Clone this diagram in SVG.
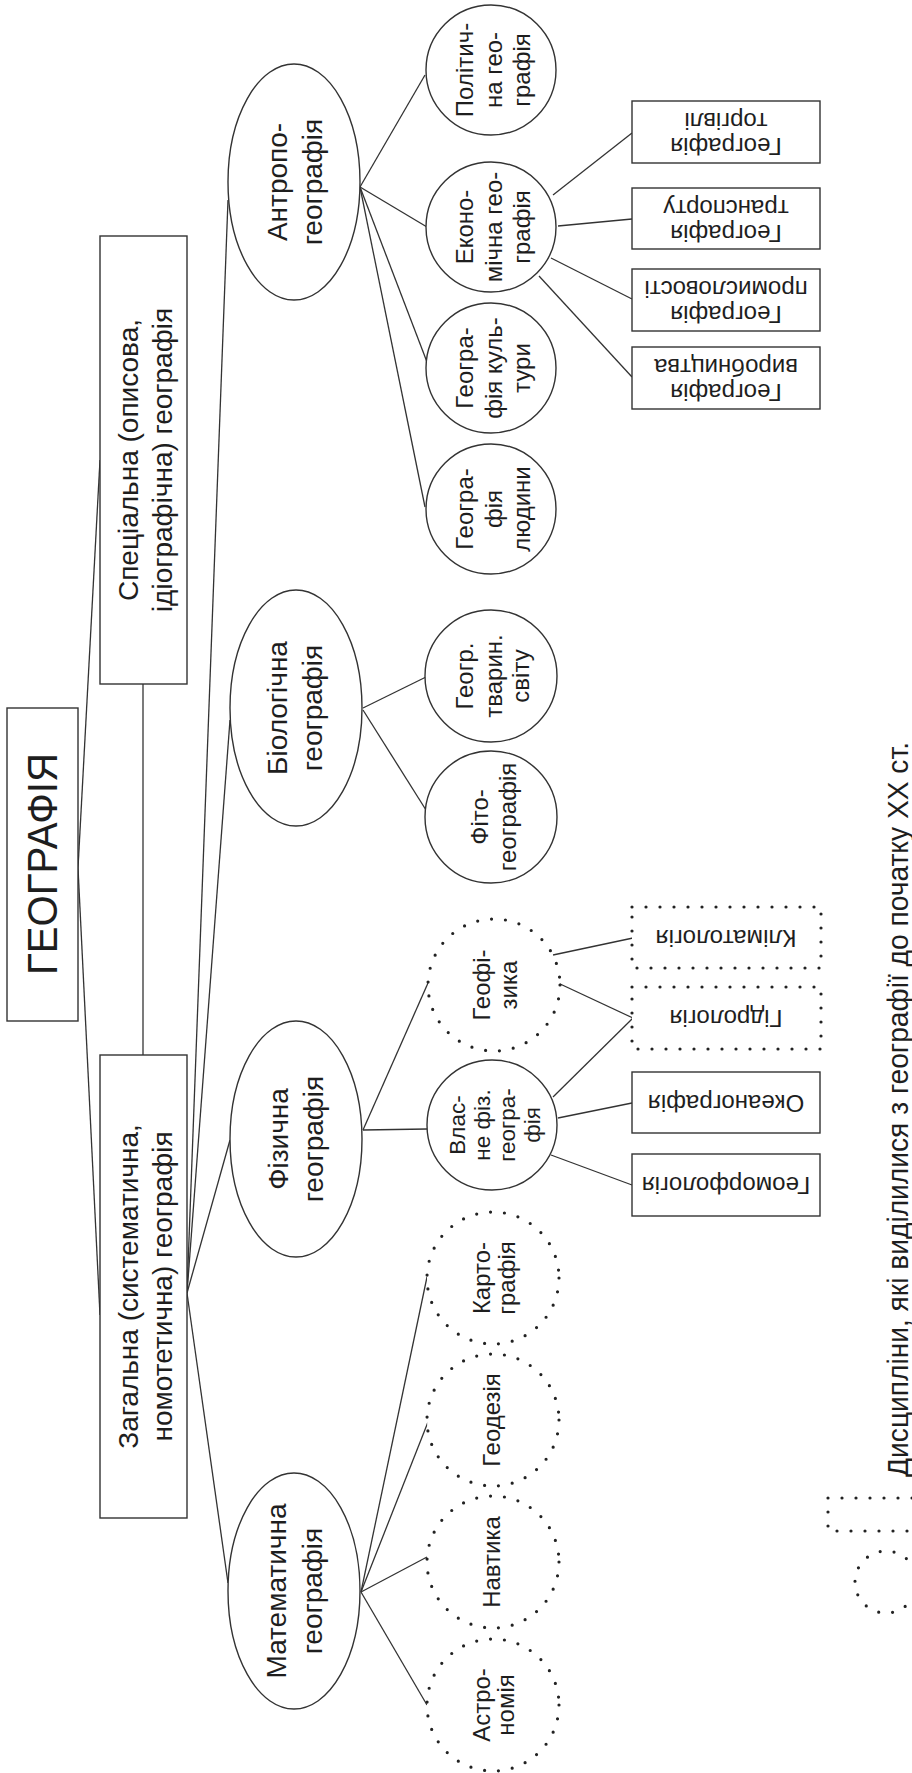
<svg xmlns="http://www.w3.org/2000/svg" width="912" height="1773" viewBox="0 0 912 1773">
<style>
.ln{stroke:#333;stroke-width:1.3;fill:none}
.sh{fill:#fff;stroke:#333;stroke-width:1.4}
.dot{fill:#fff;stroke:#222;stroke-width:3.2;stroke-dasharray:0 14;stroke-linecap:round}
.t{font-family:"Liberation Sans",Arial,sans-serif;fill:#1e1e1e;text-anchor:middle}
.b{font-size:28px}
.m{font-size:24px}
.s{font-size:24px}
.v{font-size:22.5px}
</style>
<rect width="912" height="1773" fill="#fff"/>
<g id="connectors">
<line class="ln" x1="78" y1="868" x2="100" y2="460"/>
<line class="ln" x1="78" y1="868" x2="100" y2="1315"/>
<line class="ln" x1="143" y1="684" x2="143" y2="1055"/>
<line class="ln" x1="187" y1="1293" x2="228" y2="200"/>
<line class="ln" x1="187" y1="1293" x2="230" y2="720"/>
<line class="ln" x1="187" y1="1293" x2="230" y2="1140"/>
<line class="ln" x1="187" y1="1293" x2="228" y2="1583"/>
<line class="ln" x1="360" y1="187" x2="425" y2="75"/>
<line class="ln" x1="360" y1="187" x2="427" y2="227"/>
<line class="ln" x1="360" y1="187" x2="427" y2="362"/>
<line class="ln" x1="360" y1="187" x2="425" y2="507"/>
<line class="ln" x1="553" y1="195" x2="632" y2="133"/>
<line class="ln" x1="558" y1="226" x2="632" y2="219"/>
<line class="ln" x1="551" y1="258" x2="632" y2="299"/>
<line class="ln" x1="539" y1="276" x2="632" y2="377"/>
<line class="ln" x1="363" y1="708" x2="426" y2="677"/>
<line class="ln" x1="363" y1="710" x2="426" y2="810"/>
<line class="ln" x1="363" y1="1130" x2="428" y2="983"/>
<line class="ln" x1="363" y1="1130" x2="427" y2="1129"/>
<line class="ln" x1="553" y1="955" x2="633" y2="938"/>
<line class="ln" x1="558" y1="983" x2="633" y2="1018"/>
<line class="ln" x1="553" y1="1097" x2="633" y2="1018"/>
<line class="ln" x1="558" y1="1118" x2="632" y2="1103"/>
<line class="ln" x1="551" y1="1155" x2="632" y2="1185"/>
<line class="ln" x1="361" y1="1592" x2="427" y2="1277"/>
<line class="ln" x1="361" y1="1592" x2="428" y2="1422"/>
<line class="ln" x1="361" y1="1592" x2="427" y2="1557"/>
<line class="ln" x1="361" y1="1592" x2="427" y2="1705"/>
</g>
<g id="root">
<rect class="sh" x="7" y="708" width="71" height="313"/>
<text class="t" font-size="42" transform="translate(42.5,864) rotate(-90)" y="14.5" textLength="222" lengthAdjust="spacingAndGlyphs">ГЕОГРАФІЯ</text>
</g>
<g id="special">
<rect class="sh" x="100" y="236" width="87" height="448"/>
<text class="t b" transform="translate(143.5,460) rotate(-90)"><tspan x="0" y="-5.5">Спеціальна (описова,</tspan><tspan x="0" y="28.5">ідіографічна) географія</tspan></text>
</g>
<g id="general">
<rect class="sh" x="100" y="1055" width="87" height="463"/>
<text class="t b" transform="translate(143.5,1286.5) rotate(-90)"><tspan x="0" y="-5.5">Загальна (систематична,</tspan><tspan x="0" y="28.5">номотетична) географія</tspan></text>
</g>
<g id="antropo">
<ellipse class="sh" cx="294" cy="182" rx="66" ry="118"/>
<text class="t b" transform="translate(295,182) rotate(-90)"><tspan x="0" y="-8">Антропо-</tspan><tspan x="0" y="27">географія</tspan></text>
</g>
<g id="bio">
<ellipse class="sh" cx="296" cy="708" rx="66" ry="118"/>
<text class="t b" transform="translate(295,708) rotate(-90)"><tspan x="0" y="-8">Біологічна</tspan><tspan x="0" y="27">географія</tspan></text>
</g>
<g id="phys">
<ellipse class="sh" cx="296" cy="1139" rx="66" ry="118"/>
<text class="t b" transform="translate(295,1139) rotate(-90)"><tspan x="0" y="-7">Фізична</tspan><tspan x="0" y="28">географія</tspan></text>
</g>
<g id="math">
<ellipse class="sh" cx="294" cy="1591" rx="66" ry="118"/>
<text class="t b" transform="translate(295,1591) rotate(-90)"><tspan x="0" y="-9">Математична</tspan><tspan x="0" y="27">географія</tspan></text>
</g>
<g id="polit">
<circle class="sh" cx="491" cy="70" r="65"/>
<text class="t m" transform="translate(491,70) rotate(-90)"><tspan x="0" y="-18">Політич-</tspan><tspan x="0" y="11">на гео-</tspan><tspan x="0" y="39">графія</tspan></text>
</g>
<g id="econ">
<circle class="sh" cx="491" cy="227" r="65"/>
<text class="t m" transform="translate(491,227) rotate(-90)"><tspan x="0" y="-18">Еконо-</tspan><tspan x="0" y="11">мічна гео-</tspan><tspan x="0" y="39">графія</tspan></text>
</g>
<g id="culture">
<circle class="sh" cx="491" cy="368" r="65"/>
<text class="t m" transform="translate(491,368) rotate(-90)"><tspan x="0" y="-18">Геогра-</tspan><tspan x="0" y="11">фія куль-</tspan><tspan x="0" y="39">тури</tspan></text>
</g>
<g id="human">
<circle class="sh" cx="491" cy="509" r="65"/>
<text class="t m" transform="translate(491,509) rotate(-90)"><tspan x="0" y="-18">Геогра-</tspan><tspan x="0" y="11">фія</tspan><tspan x="0" y="39">людини</tspan></text>
</g>
<g id="trade">
<rect class="sh" x="632" y="101" width="188" height="62"/>
<text class="t s" transform="translate(726,132) rotate(180)"><tspan x="0" y="-6">Географія</tspan><tspan x="0" y="19">торгівлі</tspan></text>
</g>
<g id="transport">
<rect class="sh" x="632" y="188" width="188" height="61"/>
<text class="t s" transform="translate(726,218.5) rotate(180)"><tspan x="0" y="-6">Географія</tspan><tspan x="0" y="19">транспорту</tspan></text>
</g>
<g id="industry">
<rect class="sh" x="632" y="269" width="188" height="62"/>
<text class="t s" transform="translate(726,300) rotate(180)"><tspan x="0" y="-6">Географія</tspan><tspan x="0" y="19">промисловості</tspan></text>
</g>
<g id="production">
<rect class="sh" x="632" y="347" width="188" height="62"/>
<text class="t s" transform="translate(726,378) rotate(180)"><tspan x="0" y="-6">Географія</tspan><tspan x="0" y="19">виробництва</tspan></text>
</g>
<g id="fauna">
<circle class="sh" cx="491" cy="676" r="66"/>
<text class="t m" transform="translate(491,676) rotate(-90)"><tspan x="0" y="-18">Геогр.</tspan><tspan x="0" y="11">тварин.</tspan><tspan x="0" y="38">світу</tspan></text>
</g>
<g id="phyto">
<circle class="sh" cx="491" cy="817" r="66"/>
<text class="t m" transform="translate(491,817) rotate(-90)"><tspan x="0" y="-3">Фіто-</tspan><tspan x="0" y="25">географія</tspan></text>
</g>
<g id="geophys">
<circle class="dot" cx="494" cy="985" r="66"/>
<text class="t m" transform="translate(494,985) rotate(-90)"><tspan x="0" y="-4">Геофі-</tspan><tspan x="0" y="23">зика</tspan></text>
</g>
<g id="proper">
<circle class="sh" cx="492" cy="1125" r="65"/>
<text class="t v" transform="translate(492,1125) rotate(-90)"><tspan x="0" y="-27">Влас-</tspan><tspan x="0" y="-2">не фіз.</tspan><tspan x="0" y="23">геогра-</tspan><tspan x="0" y="48">фія</tspan></text>
</g>
<g id="climat">
<rect class="dot" x="632" y="907" width="189" height="61"/>
<text class="t s" transform="translate(726,937.5) rotate(180)" y="8">Кліматологія</text>
</g>
<g id="hydro">
<rect class="dot" x="632" y="987" width="189" height="62"/>
<text class="t s" transform="translate(726,1018) rotate(180)" y="8">Гідрологія</text>
</g>
<g id="ocean">
<rect class="sh" x="632" y="1072" width="188" height="61"/>
<text class="t s" transform="translate(726,1102.5) rotate(180)" y="8">Океанографія</text>
</g>
<g id="geomorph">
<rect class="sh" x="632" y="1154" width="188" height="62"/>
<text class="t s" transform="translate(726,1185) rotate(180)" y="8">Геоморфологія</text>
</g>
<g id="carto">
<circle class="dot" cx="493" cy="1278" r="66"/>
<text class="t m" transform="translate(493,1278) rotate(-90)"><tspan x="0" y="-3">Карто-</tspan><tspan x="0" y="22">графія</tspan></text>
</g>
<g id="geodesy">
<circle class="dot" cx="493" cy="1420" r="66"/>
<text class="t m" transform="translate(493,1420) rotate(-90)" y="7">Геодезія</text>
</g>
<g id="navig">
<circle class="dot" cx="493" cy="1562" r="66"/>
<text class="t m" transform="translate(493,1562) rotate(-90)" y="7">Навтика</text>
</g>
<g id="astro">
<circle class="dot" cx="493" cy="1705" r="66"/>
<text class="t m" transform="translate(493,1705) rotate(-90)"><tspan x="0" y="-3">Астро-</tspan><tspan x="0" y="21">номія</tspan></text>
</g>
<g id="legend">
<rect class="dot" x="828" y="1498" width="100" height="33"/>
<circle class="dot" cx="886" cy="1582" r="31"/>
<text class="t" font-size="29" transform="translate(908,1109.5) rotate(-90)" textLength="735" lengthAdjust="spacingAndGlyphs">Дисципліни, які виділилися з географії до початку ХХ ст.</text>
</g>
</svg>
